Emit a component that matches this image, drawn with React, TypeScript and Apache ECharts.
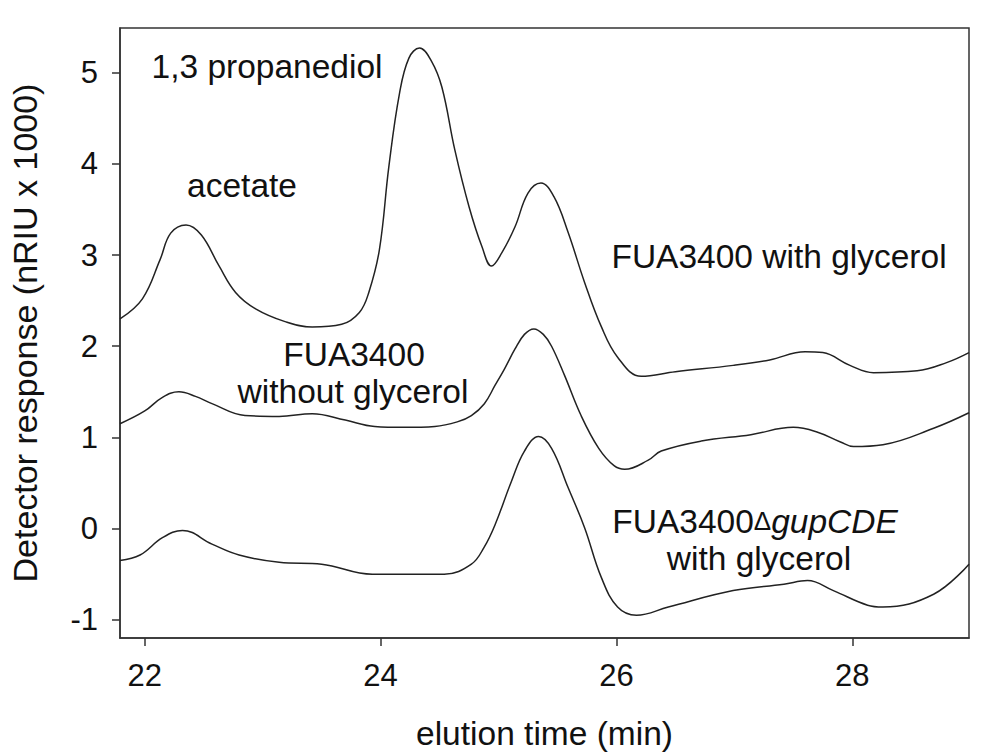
import React, { useEffect, useRef } from "react";
import * as echarts from "echarts";

const xTicks = [22, 24, 26, 28];
const yTicks = [-1, 0, 1, 2, 3, 4, 5];

const withGlycerol: [number, number][] = [
  [21.79, 2.3], [21.98, 2.52], [22.13, 2.95], [22.22, 3.24], [22.35, 3.33], [22.48, 3.22],
  [22.63, 2.88], [22.77, 2.59], [22.94, 2.41], [23.19, 2.27], [23.42, 2.21], [23.67, 2.24],
  [23.82, 2.37], [23.9, 2.59], [23.99, 3.06], [24.07, 3.97], [24.16, 4.77], [24.24, 5.16],
  [24.33, 5.27], [24.43, 5.13], [24.52, 4.84], [24.63, 4.15], [24.75, 3.53], [24.86, 3.09],
  [24.94, 2.88], [25.03, 3.03], [25.14, 3.31], [25.25, 3.68], [25.36, 3.79], [25.47, 3.64],
  [25.59, 3.25], [25.73, 2.7], [25.87, 2.22], [26.01, 1.88], [26.21, 1.67], [26.5, 1.72],
  [26.99, 1.79], [27.3, 1.85], [27.6, 1.94], [27.75, 1.93], [27.98, 1.79], [28.18, 1.71],
  [28.55, 1.73], [28.8, 1.82], [28.99, 1.93],
];

const withoutGlycerol: [number, number][] = [
  [21.79, 1.15], [22.0, 1.29], [22.15, 1.44], [22.29, 1.5], [22.43, 1.45], [22.57, 1.37],
  [22.85, 1.24], [23.14, 1.23], [23.42, 1.26], [23.7, 1.19], [23.95, 1.12], [24.2, 1.11],
  [24.46, 1.12], [24.65, 1.17], [24.77, 1.24], [24.88, 1.37], [24.97, 1.57], [25.05, 1.75],
  [25.14, 1.97], [25.22, 2.13], [25.3, 2.19], [25.38, 2.13], [25.45, 2.0], [25.56, 1.68],
  [25.7, 1.24], [25.85, 0.88], [25.98, 0.69], [26.07, 0.65], [26.27, 0.75], [26.38, 0.85],
  [26.72, 0.96], [27.14, 1.03], [27.5, 1.11], [27.7, 1.06], [27.9, 0.95], [28.01, 0.9],
  [28.26, 0.92], [28.69, 1.1], [28.99, 1.27],
];

const gupCDE: [number, number][] = [
  [21.79, -0.35], [21.96, -0.29], [22.15, -0.1], [22.32, -0.02], [22.57, -0.17], [22.8, -0.29],
  [23.14, -0.37], [23.5, -0.39], [23.93, -0.5], [24.54, -0.5], [24.77, -0.39], [24.88, -0.2],
  [24.97, 0.04], [25.11, 0.52], [25.22, 0.85], [25.34, 1.01], [25.45, 0.88], [25.59, 0.45],
  [25.73, 0.01], [25.87, -0.53], [26.01, -0.86], [26.17, -0.95], [26.44, -0.86], [26.99, -0.68],
  [27.42, -0.61], [27.62, -0.57], [27.84, -0.68], [28.13, -0.84], [28.26, -0.86], [28.69, -0.72],
  [28.99, -0.39],
];

const FONT = "'Liberation Sans', Arial, sans-serif";
const AXIS = "#333";
const ANN = 33.5;

export default function App() {
  const ref = useRef<HTMLDivElement>(null);
  useEffect(() => {
    if (!ref.current) return;
    const chart = echarts.init(ref.current, undefined, { renderer: "svg" });
    const lineSeries = (name: string, data: [number, number][]) => ({
      name,
      type: "line",
      data,
      smooth: 0.4,
      showSymbol: false,
      lineStyle: { color: "#222", width: 1.5 },
    });
    const txt = (x: number, y: number, text: string, extra: any = {}) => ({
      type: "text",
      x,
      y,
      style: {
        text,
        fontSize: ANN,
        fontFamily: FONT,
        fill: "#111",
        align: "center",
        verticalAlign: "middle",
        ...extra,
      },
    });
    chart.setOption({
      animation: false,
      backgroundColor: "#fff",
      grid: {
        left: 117,
        right: 34,
        top: 28,
        bottom: 113,
        show: true,
        borderColor: AXIS,
        borderWidth: 1.5,
        backgroundColor: "transparent",
      },
      xAxis: {
        type: "value",
        min: 21.79,
        max: 28.99,
        name: "elution time (min)",
        nameLocation: "middle",
        nameGap: 78,
        nameTextStyle: { fontSize: 33.5, fontFamily: FONT, color: "#111" },
        axisLine: { show: true, onZero: false, lineStyle: { color: AXIS, width: 1.5 } },
        axisTick: { show: true, customValues: xTicks, length: 8, lineStyle: { color: AXIS, width: 1.5 } },
        axisLabel: { customValues: xTicks, fontSize: 31, fontFamily: FONT, color: "#111", margin: 22 },
        splitLine: { show: false },
      },
      yAxis: {
        type: "value",
        min: -1.2,
        max: 5.49,
        name: "Detector response (nRIU x 1000)",
        nameLocation: "middle",
        nameGap: 78,
        nameRotate: 90,
        nameTextStyle: { fontSize: 34, fontFamily: FONT, color: "#111" },
        axisLine: { show: true, onZero: false, lineStyle: { color: AXIS, width: 1.5 } },
        axisTick: { show: true, customValues: yTicks, length: 8, lineStyle: { color: AXIS, width: 1.5 } },
        axisLabel: { customValues: yTicks, fontSize: 31, fontFamily: FONT, color: "#111", margin: 22 },
        splitLine: { show: false },
      },
      series: [
        lineSeries("FUA3400 with glycerol", withGlycerol),
        lineSeries("FUA3400 without glycerol", withoutGlycerol),
        lineSeries("FUA3400ΔgupCDE with glycerol", gupCDE),
      ],
      graphic: [
        txt(267, 66, "1,3 propanediol"),
        txt(242, 185, "acetate"),
        txt(779, 256, "FUA3400 with glycerol"),
        txt(354, 354, "FUA3400"),
        txt(353, 391, "without glycerol"),
        {
          type: "text",
          x: 755,
          y: 521,
          style: {
            text: "{n|FUA3400}{d|Δ}{i|gupCDE}",
            align: "center",
            verticalAlign: "middle",
            fill: "#111",
            rich: {
              n: { fontSize: ANN, fontFamily: FONT, fill: "#111" },
              d: { fontSize: 26, fontFamily: FONT, fill: "#111" },
              i: { fontSize: ANN, fontFamily: FONT, fontStyle: "italic", fill: "#111" },
            },
          },
        },
        txt(759, 558, "with glycerol"),
      ],
    });
    return () => chart.dispose();
  }, []);
  return (
    <div
      ref={ref}
      style={{ position: "absolute", left: 0, top: 0, width: 1003, height: 755 }}
    />
  );
}
